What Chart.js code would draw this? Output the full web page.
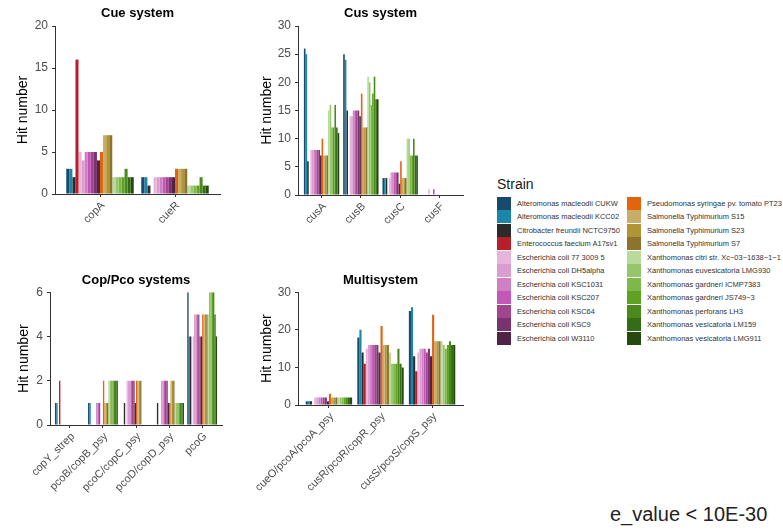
<!DOCTYPE html>
<html>
<head>
<meta charset="utf-8">
<script src="https://cdn.jsdelivr.net/npm/chart.js@4.4.1/dist/chart.umd.min.js"></script>
<style>
  html, body { margin: 0; padding: 0; background: #ffffff; }
  body { width: 783px; height: 531px; position: relative; overflow: hidden;
         font-family: 'Liberation Sans', Arial, Helvetica, sans-serif; }
  canvas { position: absolute; }
  .legend-title { position: absolute; left: 497px; top: 177px; font-size: 14px; line-height: 14px; color: #1a1a1a; }
  .key { position: absolute; width: 14px; height: 13px; }
  .lab { position: absolute; font-size: 7.5px; line-height: 13px; color: #333333; white-space: nowrap; }
  .note { position: absolute; left: 610px; top: 504px; font-size: 20px; line-height: 20px; color: #222222; white-space: nowrap; }
</style>
</head>
<body>
<canvas id="cue" width="240" height="270" style="left:0px;top:0px"></canvas>
<canvas id="cus" width="250" height="270" style="left:240px;top:0px"></canvas>
<canvas id="cop" width="240" height="261" style="left:0px;top:270px"></canvas>
<canvas id="multi" width="250" height="261" style="left:240px;top:270px"></canvas>
<div id="legend"></div>
<div class="note">e_value &lt; 10E-30</div>

<script>
// Strains, in legend order
const strains = [
  'Alteromonas macleodii CUKW', 'Alteromonas macleodii KCC02', 'Citrobacter freundii NCTC9750',
  'Enterococcus faecium A17sv1', 'Escherichia coli 77 3009 5', 'Escherichia coli DH5alpha',
  'Escherichia coli KSC1031', 'Escherichia coli KSC207', 'Escherichia coli KSC64',
  'Escherichia coli KSC9', 'Escherichia coli W3110',
  'Pseudomonas syringae pv. tomato PT23', 'Salmonella Typhimurium S15', 'Salmonella Typhimurium S23',
  'Salmonella Typhimurium S7', 'Xanthomonas citri str. Xc\u221203\u22121638\u22121\u22121',
  'Xanthomonas euvesicatoria LMG930', 'Xanthomonas gardneri ICMP7383', 'Xanthomonas gardneri JS749\u22123',
  'Xanthomonas perforans LH3', 'Xanthomonas vesicatoria LM159', 'Xanthomonas vesicatoria LMG911'
];

const strainColors = [
  '#184a6e', '#1a87a8', '#2b2b2b', '#b7202a',
  '#e7b5dc', '#db9ccf', '#cf7fc3', '#c257b5', '#a0468f', '#783370', '#4f2446',
  '#e2640f', '#c7ad6a', '#b19535', '#8c732e',
  '#b8da9c', '#96c66c', '#7db84a', '#5fa121', '#4a8a1c', '#356c17', '#244a10'
];

// Hit numbers per gene; one value per strain, same order as `strains`
const cueCategories = ['copA', 'cueR'];
const cueCopA = [3, 3, 2, 16, 5, 4, 5, 5, 5, 5, 4, 5, 7, 7, 7, 2, 2, 2, 2, 3, 2, 2];
const cueCueR = [2, 2, 1, 0, 2, 2, 2, 2, 2, 2, 2, 3, 3, 3, 3, 1, 1, 1, 1, 2, 1, 1];

const cusCategories = ['cusA', 'cusB', 'cusC', 'cusF'];
const cusA = [26, 25, 6, 0, 8, 8, 8, 8, 8, 8, 7, 10, 7, 7, 7, 15, 16, 12, 12, 16, 12, 11];
const cusB = [25, 24, 15, 0, 14, 14, 15, 15, 15, 15, 14, 18, 12, 12, 12, 21, 20, 16, 18, 21, 17, 17];
const cusC = [3, 3, 3, 0, 3, 4, 4, 4, 4, 4, 2, 6, 3, 3, 3, 10, 10, 7, 7, 10, 7, 7];
const cusF = [0, 0, 0, 0, 1, 0, 0, 1, 0, 0, 0, 0, 0, 0, 0, 0, 0, 0, 0, 0, 0, 0];

const copCategories = ['copY_strep', 'pcoB/copB_psy', 'pcoC/copC_psy', 'pcoD/copD_psy', 'pcoG'];
const copY = [1, 1, 0, 2, 0, 0, 0, 0, 0, 0, 0, 0, 0, 0, 0, 0, 0, 0, 0, 0, 0, 0];
const pcoB = [1, 1, 0, 0, 0, 0, 1, 1, 1, 0, 0, 2, 1, 1, 1, 2, 2, 2, 2, 2, 2, 2];
const pcoC = [0, 0, 1, 0, 2, 2, 2, 2, 2, 2, 1, 2, 2, 2, 2, 0, 0, 0, 0, 0, 0, 0];
const pcoD = [0, 0, 1, 0, 0, 2, 2, 2, 2, 2, 1, 1, 2, 2, 2, 1, 1, 1, 1, 1, 1, 1];
const pcoG = [6, 4, 4, 0, 4, 5, 5, 5, 5, 4, 4, 5, 5, 5, 5, 5, 6, 6, 6, 6, 5, 4];

const multiCategories = ['cueO/pcoA/pcoA_psy', 'cusR/pcoR/copR_psy', 'cusS/pcoS/copS_psy'];
const cueO = [1, 1, 1, 0, 2, 2, 2, 2, 2, 2, 1, 3, 2, 2, 2, 2, 2, 2, 2, 2, 2, 2];
const cusR = [18, 20, 14, 11, 15, 16, 16, 16, 16, 16, 14, 21, 16, 16, 16, 14, 11, 11, 11, 15, 11, 10];
const cusS = [25, 26, 13, 9, 14, 15, 15, 15, 14, 15, 13, 24, 17, 17, 17, 17, 16, 15, 16, 17, 16, 16];

Chart.defaults.font.family = "'Liberation Sans', Arial, Helvetica, sans-serif";

const AXIS = '#333333';
const TICK_TEXT = '#4d4d4d';

function buildPanel(canvasId, title, cats, rows, yMax, yStep, g) {
  const datasets = strains.map((name, s) => ({
    label: name,
    data: rows.map((vals, j) => ({ x: j + 1, y: vals[s] })),
    backgroundColor: strainColors[s],
    borderWidth: 0,
    categoryPercentage: 0.9,
    barPercentage: 1.0
  }));

  return new Chart(document.getElementById(canvasId), {
    type: 'bar',
    data: { datasets },
    options: {
      responsive: false,
      animation: false,
      devicePixelRatio: 1,
      events: [],
      layout: { padding: { left: 0, top: 0, right: g.padRight, bottom: 0 } },
      plugins: {
        legend: { display: false },
        tooltip: { enabled: false },
        title: {
          display: true, text: title, fullSize: false, color: '#000000',
          font: { size: 13, weight: 'bold' },
          padding: { top: g.titleTop, bottom: g.titleBottom }
        }
      },
      scales: {
        x: {
          type: 'linear',
          offset: false,
          bounds: 'data',
          min: 0.4,
          max: cats.length + 0.6,
          afterBuildTicks: s => { s.ticks = cats.map((_, i) => ({ value: i + 1 })); },
          afterFit: s => { s.height = g.xHeight; },
          grid: { display: true, offset: false, drawOnChartArea: false, drawTicks: true, tickLength: 3, color: AXIS, lineWidth: 1 },
          border: { display: true, color: AXIS, width: 1 },
          ticks: {
            autoSkip: false, minRotation: 45, maxRotation: 45, padding: 2, labelOffset: 3,
            color: TICK_TEXT, font: { size: 11 },
            callback: v => cats[Math.round(v) - 1]
          }
        },
        y: {
          min: 0, max: yMax,
          afterFit: s => { s.width = g.yWidth; },
          grid: { display: true, drawOnChartArea: false, drawTicks: true, tickLength: 3, color: AXIS, lineWidth: 1 },
          border: { display: true, color: AXIS, width: 1 },
          ticks: { stepSize: yStep, padding: 4, color: TICK_TEXT, font: { size: 12 } },
          title: {
            display: true, text: 'Hit number', color: '#000000',
            font: { size: 14 }, padding: { top: g.yTitlePad, bottom: 0 }
          }
        }
      }
    }
  });
}

buildPanel('cue', 'Cue system', cueCategories, [cueCopA, cueCueR], 20, 5,
  { yWidth: 55, xHeight: 76, padRight: 20, titleTop: 5.2, titleBottom: 5.2, yTitlePad: 14.6 });

buildPanel('cus', 'Cus system', cusCategories, [cusA, cusB, cusC, cusF], 30, 5,
  { yWidth: 58, xHeight: 75, padRight: 27, titleTop: 5.2, titleBottom: 5.2, yTitlePad: 19.1 });

buildPanel('cop', 'Cop/Pco systems', copCategories, [copY, pcoB, pcoC, pcoD, pcoG], 6, 2,
  { yWidth: 50, xHeight: 106, padRight: 18, titleTop: 2.2, titleBottom: 4.5, yTitlePad: 15.4 });

buildPanel('multi', 'Multisystem', multiCategories, [cueO, cusR, cusS], 30, 10,
  { yWidth: 58, xHeight: 126, padRight: 27, titleTop: 2.2, titleBottom: 4.5, yTitlePad: 19.1 });

// Strain legend: two columns of eleven keys
(function drawLegend() {
  const host = document.getElementById('legend');
  const head = document.createElement('div');
  head.className = 'legend-title';
  head.textContent = 'Strain';
  host.appendChild(head);
  const perCol = 11;
  strains.forEach((name, i) => {
    const col = Math.floor(i / perCol);
    const row = i % perCol;
    const keyX = col === 0 ? 497 : 627;
    const top = 196.5 + row * 13.5;
    const key = document.createElement('div');
    key.className = 'key';
    key.style.left = keyX + 'px';
    key.style.top = top + 'px';
    key.style.background = strainColors[i];
    host.appendChild(key);
    const lab = document.createElement('div');
    lab.className = 'lab';
    lab.style.left = (keyX + 20) + 'px';
    lab.style.top = top + 'px';
    lab.textContent = name;
    host.appendChild(lab);
  });
})();
</script>
</body>
</html>
